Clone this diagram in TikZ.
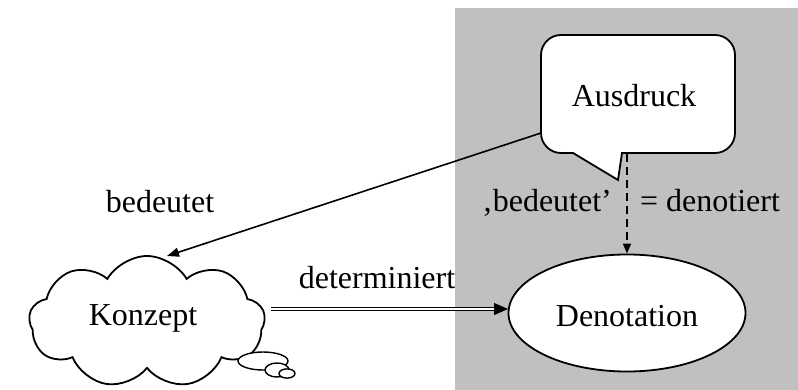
\documentclass[tikz,border=0pt]{standalone}
\usepackage{fontspec}
\setmainfont{Liberation Serif}
\usetikzlibrary{shapes.symbols,shapes.geometric,arrows.meta}
\definecolor{bggrey}{HTML}{C0C0C0}
\begin{document}
\begin{tikzpicture}[x=0.5pt,y=-0.5pt,
  every node/.style={font=\fontsize{16pt}{19pt}\selectfont},
  outl/.style={draw=black,line width=0.9pt,fill=white},
  arr/.style={line width=0.8pt},
  lbl/.style={anchor=base,inner sep=0pt}]
\useasboundingbox (0,0) rectangle (798,390);
\fill[bggrey] (455,8) rectangle (798,390);
% callout
\draw[outl] (561,35) -- (715,35) .. controls (726,35) and (735,44) .. (735,55)
  -- (735,133) .. controls (735,144) and (726,153) .. (715,153)
  -- (622,153) -- (618,180) -- (573,153) -- (561,153)
  .. controls (550,153) and (541,144) .. (541,133)
  -- (541,55) .. controls (541,44) and (550,35) .. (561,35) -- cycle;
\node[inner sep=0pt] (aus) at (634,96) {Ausdruck};
\coordinate (ausL) at (541,133);
\coordinate (ausB) at (627,154);
% cloud
\node[cloud, cloud puffs=9, cloud puff arc=120, aspect=1.7, outl,
  minimum width=118pt, minimum height=66pt, inner sep=0pt] (kcl) at (147,322) {};
\node[inner sep=0pt] (kon) at (143,318) {Konzept};
\coordinate (kTop) at (167,256);
\draw[outl,line width=0.7pt] (263,361) ellipse [x radius=12.5pt, y radius=4.5pt];
\draw[outl,line width=0.7pt] (277,370) ellipse [x radius=6pt, y radius=3.5pt];
\draw[outl,line width=0.7pt] (287,373.5) ellipse [x radius=4pt, y radius=2.3pt];
% Denotation
\node[ellipse, outl, minimum width=118.5pt, minimum height=58.5pt, inner sep=0pt] (den) at (627,313) {};
\node[inner sep=0pt] at (627,316) (dtxt) {Denotation};
\coordinate (kR) at (271,309);
\coordinate (dL) at (508,309);
\coordinate (dLs) at (494,309);
% connectors
\draw[arr,-{Triangle[length=6pt,width=4.5pt]}] (ausL) -- (kTop);
\draw[arr,dash pattern=on 4pt off 2.5pt,-{Triangle[length=5pt,width=4pt]}] (ausB) -- (den.north);
\draw[line width=0.5pt,double=white,double distance=1pt] (kR) -- (dLs);
\draw[-{Triangle[length=7pt,width=6pt]},line width=0.5pt] (dLs) -- (dL);
% labels
\node[lbl] at (160,213) {bedeutet};
\node[lbl] at (377,288) {determiniert};
\node[lbl] at (547,212) {‚bedeutet’};
\node[lbl] at (710,212) {= denotiert};
\end{tikzpicture}
\end{document}
